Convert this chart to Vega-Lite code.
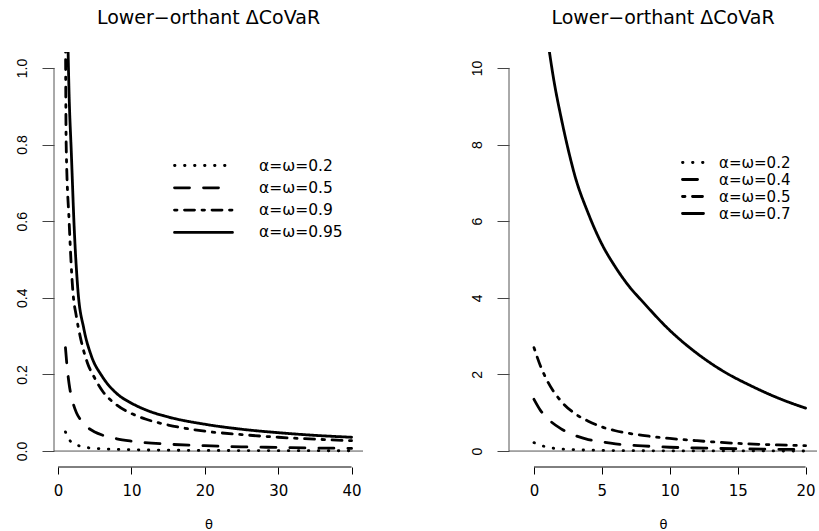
{
  "$schema": "https://vega.github.io/schema/vega-lite/v6.json",
  "background": "white",
  "padding": {"left": 15, "top": 9, "right": 0, "bottom": 0},
  "bounds": "flush",
  "spacing": 146,
  "config": {
    "view": {"stroke": null},
    "font": "DejaVu Sans",
    "title": {"font": "DejaVu Sans", "fontSize": 19, "fontWeight": "normal", "color": "black", "anchor": "middle", "frame": "group", "baseline": "alphabetic", "offset": 24},
    "axis": {"labelFont": "DejaVu Sans", "labelFontSize": 15, "labelColor": "black", "titleFont": "DejaVu Sans", "titleFontSize": 13, "titleFontWeight": "normal", "titleColor": "black", "grid": false, "domain": false, "tickColor": "black"},
    "axisX": {"tickSize": 7, "labelPadding": 9, "titlePadding": 20},
    "axisY": {"tickSize": 12, "labelFont": "Liberation Sans", "labelFontSize": 14, "labelAngle": 270, "labelAlign": "center", "labelBaseline": "bottom", "labelPadding": 13, "tickColor": "#444"},
    "legend": {"orient": "none", "title": null, "symbolType": "stroke", "symbolStrokeColor": "black", "symbolStrokeWidth": 2.8, "labelFont": "DejaVu Sans", "labelFontSize": 16, "labelColor": "black", "padding": 0}
  },
  "resolve": {"scale": {"strokeDash": "independent"}},
  "datasets": {
    "left": [
      {"theta": 1, "value": 0.05, "series": "α=ω=0.2"},
      {"theta": 1.5, "value": 0.03, "series": "α=ω=0.2"},
      {"theta": 2, "value": 0.021, "series": "α=ω=0.2"},
      {"theta": 3, "value": 0.013, "series": "α=ω=0.2"},
      {"theta": 4, "value": 0.009, "series": "α=ω=0.2"},
      {"theta": 5, "value": 0.007, "series": "α=ω=0.2"},
      {"theta": 7, "value": 0.005, "series": "α=ω=0.2"},
      {"theta": 10, "value": 0.0035, "series": "α=ω=0.2"},
      {"theta": 15, "value": 0.0023, "series": "α=ω=0.2"},
      {"theta": 20, "value": 0.0017, "series": "α=ω=0.2"},
      {"theta": 30, "value": 0.0011, "series": "α=ω=0.2"},
      {"theta": 40, "value": 0.0008, "series": "α=ω=0.2"},
      {"theta": 1, "value": 0.27, "series": "α=ω=0.5"},
      {"theta": 1.25, "value": 0.215, "series": "α=ω=0.5"},
      {"theta": 1.5, "value": 0.175, "series": "α=ω=0.5"},
      {"theta": 2, "value": 0.128, "series": "α=ω=0.5"},
      {"theta": 2.5, "value": 0.1, "series": "α=ω=0.5"},
      {"theta": 3, "value": 0.083, "series": "α=ω=0.5"},
      {"theta": 4, "value": 0.062, "series": "α=ω=0.5"},
      {"theta": 5, "value": 0.05, "series": "α=ω=0.5"},
      {"theta": 6, "value": 0.042, "series": "α=ω=0.5"},
      {"theta": 8, "value": 0.032, "series": "α=ω=0.5"},
      {"theta": 10, "value": 0.026, "series": "α=ω=0.5"},
      {"theta": 15, "value": 0.018, "series": "α=ω=0.5"},
      {"theta": 20, "value": 0.014, "series": "α=ω=0.5"},
      {"theta": 25, "value": 0.011, "series": "α=ω=0.5"},
      {"theta": 30, "value": 0.0095, "series": "α=ω=0.5"},
      {"theta": 35, "value": 0.008, "series": "α=ω=0.5"},
      {"theta": 40, "value": 0.007, "series": "α=ω=0.5"},
      {"theta": 1, "value": 1.12, "series": "α=ω=0.9"},
      {"theta": 1.1, "value": 0.8, "series": "α=ω=0.9"},
      {"theta": 1.5, "value": 0.6, "series": "α=ω=0.9"},
      {"theta": 2, "value": 0.42, "series": "α=ω=0.9"},
      {"theta": 2.5, "value": 0.35, "series": "α=ω=0.9"},
      {"theta": 3, "value": 0.3, "series": "α=ω=0.9"},
      {"theta": 4, "value": 0.23, "series": "α=ω=0.9"},
      {"theta": 5, "value": 0.19, "series": "α=ω=0.9"},
      {"theta": 6, "value": 0.158, "series": "α=ω=0.9"},
      {"theta": 8, "value": 0.12, "series": "α=ω=0.9"},
      {"theta": 10, "value": 0.098, "series": "α=ω=0.9"},
      {"theta": 12, "value": 0.083, "series": "α=ω=0.9"},
      {"theta": 15, "value": 0.068, "series": "α=ω=0.9"},
      {"theta": 20, "value": 0.052, "series": "α=ω=0.9"},
      {"theta": 25, "value": 0.043, "series": "α=ω=0.9"},
      {"theta": 30, "value": 0.036, "series": "α=ω=0.9"},
      {"theta": 35, "value": 0.031, "series": "α=ω=0.9"},
      {"theta": 40, "value": 0.027, "series": "α=ω=0.9"},
      {"theta": 1.3, "value": 1.1, "series": "α=ω=0.95"},
      {"theta": 1.5, "value": 0.93, "series": "α=ω=0.95"},
      {"theta": 1.8, "value": 0.78, "series": "α=ω=0.95"},
      {"theta": 2.2, "value": 0.58, "series": "α=ω=0.95"},
      {"theta": 2.7, "value": 0.42, "series": "α=ω=0.95"},
      {"theta": 3.5, "value": 0.32, "series": "α=ω=0.95"},
      {"theta": 4.5, "value": 0.25, "series": "α=ω=0.95"},
      {"theta": 6, "value": 0.195, "series": "α=ω=0.95"},
      {"theta": 8, "value": 0.15, "series": "α=ω=0.95"},
      {"theta": 10, "value": 0.125, "series": "α=ω=0.95"},
      {"theta": 12, "value": 0.107, "series": "α=ω=0.95"},
      {"theta": 15, "value": 0.089, "series": "α=ω=0.95"},
      {"theta": 20, "value": 0.07, "series": "α=ω=0.95"},
      {"theta": 25, "value": 0.057, "series": "α=ω=0.95"},
      {"theta": 30, "value": 0.048, "series": "α=ω=0.95"},
      {"theta": 35, "value": 0.041, "series": "α=ω=0.95"},
      {"theta": 40, "value": 0.036, "series": "α=ω=0.95"}
    ],
    "right": [
      {"theta": 0, "value": 0.22, "series": "α=ω=0.2"},
      {"theta": 0.5, "value": 0.15, "series": "α=ω=0.2"},
      {"theta": 1, "value": 0.1, "series": "α=ω=0.2"},
      {"theta": 2, "value": 0.055, "series": "α=ω=0.2"},
      {"theta": 3, "value": 0.035, "series": "α=ω=0.2"},
      {"theta": 4, "value": 0.025, "series": "α=ω=0.2"},
      {"theta": 6, "value": 0.013, "series": "α=ω=0.2"},
      {"theta": 8, "value": 0.008, "series": "α=ω=0.2"},
      {"theta": 10, "value": 0.005, "series": "α=ω=0.2"},
      {"theta": 15, "value": 0.003, "series": "α=ω=0.2"},
      {"theta": 20, "value": 0.002, "series": "α=ω=0.2"},
      {"theta": 0, "value": 1.35, "series": "α=ω=0.4"},
      {"theta": 0.5, "value": 1.05, "series": "α=ω=0.4"},
      {"theta": 1, "value": 0.85, "series": "α=ω=0.4"},
      {"theta": 2, "value": 0.58, "series": "α=ω=0.4"},
      {"theta": 3, "value": 0.41, "series": "α=ω=0.4"},
      {"theta": 4, "value": 0.3, "series": "α=ω=0.4"},
      {"theta": 5, "value": 0.24, "series": "α=ω=0.4"},
      {"theta": 6, "value": 0.19, "series": "α=ω=0.4"},
      {"theta": 8, "value": 0.135, "series": "α=ω=0.4"},
      {"theta": 10, "value": 0.1, "series": "α=ω=0.4"},
      {"theta": 12, "value": 0.08, "series": "α=ω=0.4"},
      {"theta": 15, "value": 0.06, "series": "α=ω=0.4"},
      {"theta": 18, "value": 0.045, "series": "α=ω=0.4"},
      {"theta": 20, "value": 0.04, "series": "α=ω=0.4"},
      {"theta": 0, "value": 2.7, "series": "α=ω=0.5"},
      {"theta": 0.5, "value": 2.2, "series": "α=ω=0.5"},
      {"theta": 1, "value": 1.82, "series": "α=ω=0.5"},
      {"theta": 2, "value": 1.3, "series": "α=ω=0.5"},
      {"theta": 3, "value": 0.98, "series": "α=ω=0.5"},
      {"theta": 4, "value": 0.78, "series": "α=ω=0.5"},
      {"theta": 5, "value": 0.63, "series": "α=ω=0.5"},
      {"theta": 6, "value": 0.53, "series": "α=ω=0.5"},
      {"theta": 8, "value": 0.41, "series": "α=ω=0.5"},
      {"theta": 10, "value": 0.33, "series": "α=ω=0.5"},
      {"theta": 12, "value": 0.27, "series": "α=ω=0.5"},
      {"theta": 15, "value": 0.2, "series": "α=ω=0.5"},
      {"theta": 18, "value": 0.16, "series": "α=ω=0.5"},
      {"theta": 20, "value": 0.14, "series": "α=ω=0.5"},
      {"theta": 0.9, "value": 11, "series": "α=ω=0.7"},
      {"theta": 1.5, "value": 9.6, "series": "α=ω=0.7"},
      {"theta": 2, "value": 8.7, "series": "α=ω=0.7"},
      {"theta": 2.5, "value": 7.9, "series": "α=ω=0.7"},
      {"theta": 3, "value": 7.2, "series": "α=ω=0.7"},
      {"theta": 4, "value": 6.2, "series": "α=ω=0.7"},
      {"theta": 5, "value": 5.4, "series": "α=ω=0.7"},
      {"theta": 6, "value": 4.8, "series": "α=ω=0.7"},
      {"theta": 7, "value": 4.3, "series": "α=ω=0.7"},
      {"theta": 8, "value": 3.9, "series": "α=ω=0.7"},
      {"theta": 10, "value": 3.15, "series": "α=ω=0.7"},
      {"theta": 12, "value": 2.55, "series": "α=ω=0.7"},
      {"theta": 14, "value": 2.07, "series": "α=ω=0.7"},
      {"theta": 16, "value": 1.7, "series": "α=ω=0.7"},
      {"theta": 18, "value": 1.38, "series": "α=ω=0.7"},
      {"theta": 20, "value": 1.12, "series": "α=ω=0.7"}
    ],
    "axes": [{"k": 1}]
  },
  "hconcat": [
    {
      "width": 309,
      "height": 415,
      "title": "Lower−orthant ΔCoVaR",
      "layer": [
        {
          "data": {"name": "axes"},
          "mark": {"type": "rule", "color": "#555", "strokeWidth": 1},
          "encoding": {"y": {"datum": 0, "type": "quantitative", "scale": {"domain": [-0.0416, 1.0416], "nice": false, "zero": false}, "axis": {"values": [0, 0.2, 0.4, 0.6, 0.8, 1.0], "format": ".1f", "title": null}}}
        },
        {
          "data": {"name": "axes"},
          "mark": {"type": "rule", "color": "#555", "strokeWidth": 1},
          "encoding": {"x": {"datum": -0.56, "type": "quantitative"}, "y": {"datum": 0, "type": "quantitative"}, "y2": {"datum": 1}}
        },
        {
          "data": {"name": "axes"},
          "mark": {"type": "rule", "color": "black", "strokeWidth": 1},
          "encoding": {"x": {"datum": 0, "type": "quantitative"}, "x2": {"datum": 40}, "y": {"datum": -0.0416, "type": "quantitative"}}
        },
        {
          "data": {"name": "left"},
          "mark": {"type": "line", "color": "black", "strokeWidth": 2.8, "strokeCap": "round", "interpolate": "monotone", "clip": true},
          "encoding": {
            "x": {"field": "theta", "type": "quantitative", "scale": {"domain": [-0.56, 41.56], "nice": false, "zero": false}, "axis": {"values": [0, 10, 20, 30, 40], "title": "θ"}},
            "y": {"field": "value", "type": "quantitative"},
            "detail": {"field": "series"},
            "strokeDash": {
              "field": "series", "type": "nominal",
              "scale": {"domain": ["α=ω=0.2", "α=ω=0.5", "α=ω=0.9", "α=ω=0.95"], "range": [[0.5, 9.5], [15, 14], [2.5, 7.5, 10, 7.5], [1, 0]]},
              "legend": {"legendX": 139.5, "legendY": 103.5, "symbolType": "M-3.41,0H3.41", "symbolSize": 289, "labelOffset": 45.5, "labelFontSize": 15.5, "rowPadding": 3.3, "encode": {"symbols": {"update": {"strokeCap": {"value": "round"}, "fill": {"value": "transparent"}}}}}
            }
          }
        }
      ]
    },
    {
      "width": 308,
      "height": 415,
      "title": "Lower−orthant ΔCoVaR",
      "layer": [
        {
          "data": {"name": "axes"},
          "mark": {"type": "rule", "color": "#555", "strokeWidth": 1},
          "encoding": {"y": {"datum": 0, "type": "quantitative", "scale": {"domain": [-0.416, 10.416], "nice": false, "zero": false}, "axis": {"values": [0, 2, 4, 6, 8, 10], "title": null}}}
        },
        {
          "data": {"name": "axes"},
          "mark": {"type": "rule", "color": "#555", "strokeWidth": 1},
          "encoding": {"x": {"datum": -1.84, "type": "quantitative"}, "y": {"datum": 0, "type": "quantitative"}, "y2": {"datum": 10}}
        },
        {
          "data": {"name": "axes"},
          "mark": {"type": "rule", "color": "black", "strokeWidth": 1},
          "encoding": {"x": {"datum": 0, "type": "quantitative"}, "x2": {"datum": 20}, "y": {"datum": -0.416, "type": "quantitative"}}
        },
        {
          "data": {"name": "right"},
          "mark": {"type": "line", "color": "black", "strokeWidth": 2.8, "strokeCap": "round", "interpolate": "monotone", "clip": true},
          "encoding": {
            "x": {"field": "theta", "type": "quantitative", "scale": {"domain": [-1.84, 20.84], "nice": false, "zero": false}, "axis": {"values": [0, 5, 10, 15, 20], "title": "θ"}},
            "y": {"field": "value", "type": "quantitative"},
            "detail": {"field": "series"},
            "strokeDash": {
              "field": "series", "type": "nominal",
              "scale": {"domain": ["α=ω=0.2", "α=ω=0.4", "α=ω=0.5", "α=ω=0.7"], "range": [[0.5, 9.5], [15, 14], [2.5, 7.5, 10, 7.5], [1, 0]]},
              "legend": {"legendX": 175.5, "legendY": 102, "symbolType": "M-1.5,0H1.5", "symbolSize": 196, "labelOffset": 17.5, "labelFontSize": 15, "rowPadding": -3, "encode": {"symbols": {"update": {"strokeCap": {"value": "round"}, "fill": {"value": "transparent"}}}}}
            }
          }
        }
      ]
    }
  ]
}
